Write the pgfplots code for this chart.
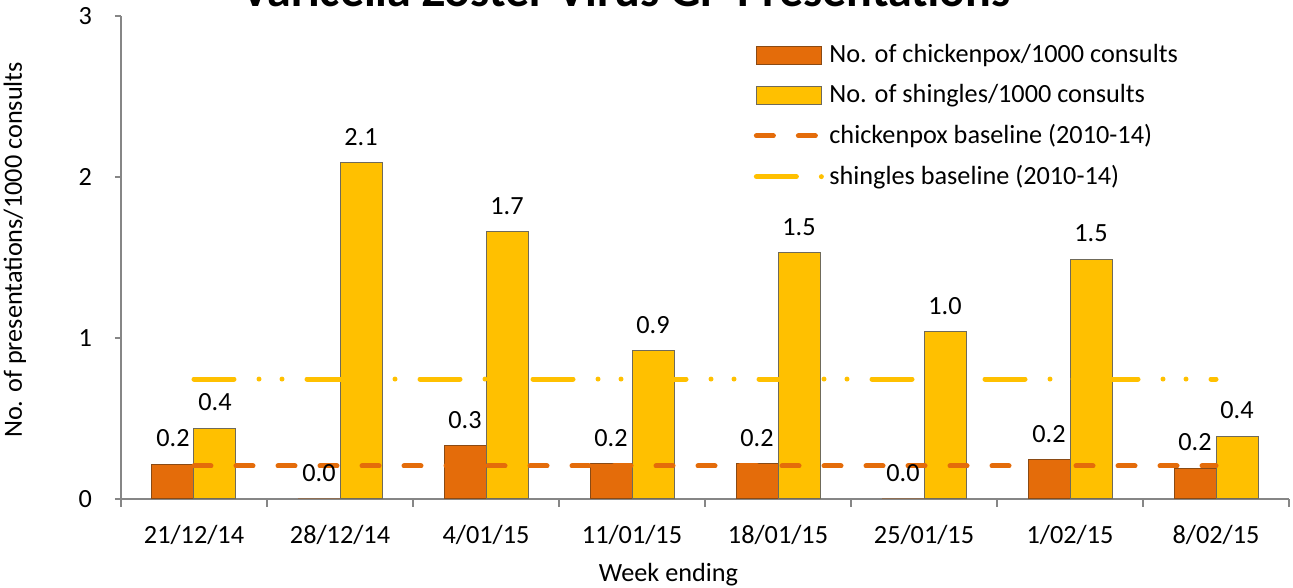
\documentclass[border=0pt]{standalone}
\usepackage{pgfplots}
\pgfplotsset{compat=1.18}
\usepackage{fontspec}
\setmainfont{Carlito}

\definecolor{pox}{HTML}{E46C0A}
\definecolor{pox_edge}{HTML}{8A4A14}
\definecolor{shg}{HTML}{FFC000}
\definecolor{shg_edge}{HTML}{6F6A5A}
\definecolor{axgray}{HTML}{868686}

\pgfplotsset{
  barleg/.style={legend image code/.code={\draw[##1] (0pt,-3.6pt) rectangle (26pt,3.6pt);}},
  lineleg/.style={legend image code/.code={\draw[##1] (0pt,0pt) -- (26.2pt,0pt);}},
  vallabel/.style={nodes near coords, nodes near coords style={black, yshift=3.2pt, xshift=#1,
      font=\fontsize{10.5}{12.5}\selectfont,
      /pgf/number format/.cd, fixed, precision=1, zerofill, assume math mode=true}},
}

\begin{document}
\fontsize{10.5}{12.5}\selectfont
\begin{tikzpicture}
\begin{axis}[
    at={(0,0)}, anchor=south west,
    scale only axis,
    width=467.2pt, height=193.2pt,
    xmin=-0.5, xmax=7.5,
    ymin=0, ymax=3,
    axis x line=bottom, axis y line=left,
    axis line style={-, axgray, line width=0.8pt},
    xtick={0,...,7},
    xticklabels={21/12/14,28/12/14,4/01/15,11/01/15,18/01/15,25/01/15,1/02/15,8/02/15},
    major x tick style={draw=none},
    minor xtick={-0.5,0.5,...,7.5},
    minor x tick style={axgray, line width=0.8pt},
    minor tick length=3.2pt,
    ytick={0,1,2,3},
    major y tick style={axgray, line width=0.8pt},
    major tick length=2.4pt,
    tick align=outside,
    xticklabel style={yshift=-4.6pt},
    yticklabel style={xshift=-5.5pt},
    /pgf/number format/assume math mode=true,
    tick label style={font=\fontsize{10.5}{12.5}\selectfont},
    legend style={at={(0.535,0.963)}, anchor=north west, draw=none, fill=none,
      font=\fontsize{10.5}{12.5}\selectfont, row sep=3.1pt,
      /tikz/every even column/.append style={column sep=3pt}},
    legend cell align=left,
    clip=false,
]
\addplot[ybar, bar width=16.8pt, bar shift=-8.4pt, fill=pox, draw=pox_edge, line width=0.4pt, barleg, vallabel=-8.4pt]
  coordinates {(0,0.217) (1,0) (2,0.33) (3,0.22) (4,0.22) (5,0) (6,0.245) (7,0.19)};
\addplot[ybar, bar width=16.8pt, bar shift=8.4pt, fill=shg, draw=shg_edge, line width=0.4pt, barleg, vallabel=8.4pt]
  coordinates {(0,0.44) (1,2.09) (2,1.66) (3,0.92) (4,1.53) (5,1.04) (6,1.49) (7,0.39)};
\addplot[pox, line width=2pt, line cap=round, dash pattern=on 6.8pt off 10pt, lineleg, mark=none]
  coordinates {(0,0.205) (7,0.205)};
\addplot[shg, line width=2pt, line cap=round, dash pattern=on 16pt off 10pt on 0pt off 9.2pt on 0pt off 10pt, lineleg, mark=none]
  coordinates {(0,0.745) (7,0.745)};
\legend{No. of chickenpox/1000 consults, No. of shingles/1000 consults, chickenpox baseline (2010-14), shingles baseline (2010-14)}
\end{axis}
\node[rotate=90] at (-42.4pt,99.6pt) {No. of presentations/1000 consults};
\node at (219pt,-30.4pt) {Week ending};
\node[anchor=base, font=\fontsize{19.2}{22}\selectfont\bfseries] at (202pt,196.8pt) {Varicella Zoster Virus GP Presentations};
\pgfresetboundingbox
\path (-48.4pt,-35.6pt) rectangle (468.8pt,199.6pt);
\end{tikzpicture}
\end{document}
